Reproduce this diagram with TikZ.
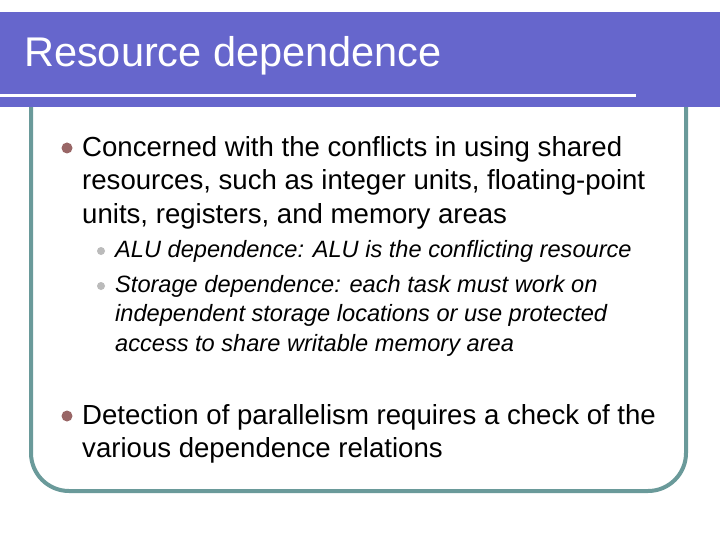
\documentclass[tikz,border=0pt]{standalone}
\usepackage{fontspec}
\setmainfont{Liberation Sans}
\definecolor{barc}{HTML}{6666CC}
\definecolor{framec}{HTML}{6A9A9A}
\definecolor{bulc}{HTML}{996666}
\definecolor{subc}{HTML}{BBBBBB}
\begin{document}
\begin{tikzpicture}[x=1pt,y=-1pt,
  main/.style={anchor=west,font=\fontsize{27.6}{33.5}\selectfont,align=left,inner sep=0pt},
  sub/.style={anchor=west,font=\fontsize{23.6}{29.5}\selectfont\itshape,align=left,inner sep=0pt},
  bigdot/.style={circle,fill=bulc,inner sep=0pt,minimum size=11pt},
  smalldot/.style={circle,fill=subc,inner sep=0pt,minimum size=8pt}]
\useasboundingbox (0,0) rectangle (720,540);
\fill[white] (0,0) rectangle (720,540);
\draw[framec,line width=4pt,rounded corners=38pt] (31,60) rectangle (686,491);
\fill[barc] (0,12) rectangle (720,107);
\draw[white,line width=3pt] (0,96) -- (636,96);
\node[anchor=west,text=white,font=\fontsize{41.5}{48}\selectfont,inner sep=0pt] (title) at (24,56) {Resource dependence};
\node[bigdot] (b1) at (67,148) {};
\node[main,anchor=north west] (t1) at (82,136) {Concerned with the conflicts in using shared\\resources, such as integer units, floating-point\\units, registers, and memory areas};
\node[smalldot] (s1) at (101,251) {};
\node[sub] (u1) at (115,251) {ALU dependence: ALU is the conflicting resource};
\node[smalldot] (s2) at (101,286) {};
\node[sub,anchor=north west] (u2) at (115,275) {Storage dependence: each task must work on\\independent storage locations or use protected\\access to share writable memory area};
\node[bigdot] (b2) at (67,416) {};
\node[main,anchor=north west] (t2) at (82,404) {Detection of parallelism requires a check of the\\various dependence relations};
\end{tikzpicture}
\end{document}
